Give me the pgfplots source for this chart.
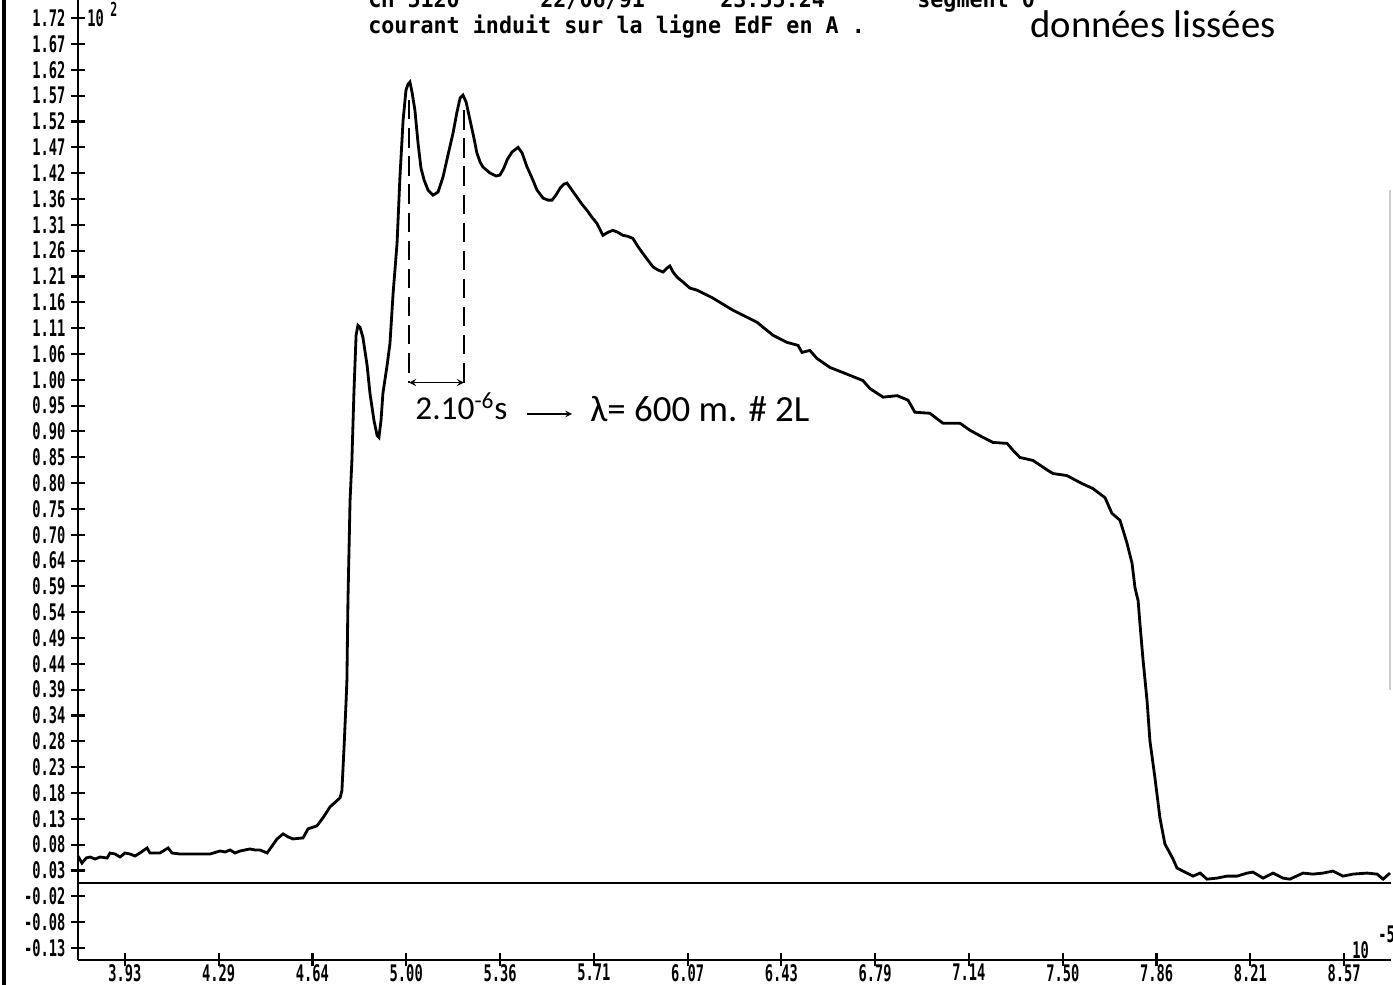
\documentclass[border=0pt]{standalone}
\usepackage{fontspec}
\usepackage{pgfplots}
\pgfplotsset{compat=1.18}
\newfontfamily\dotfont[FakeStretch=0.6]{DejaVu Sans Mono}
\newfontfamily\titlefont[FakeStretch=0.95]{DejaVu Sans Mono}
\newfontfamily\handfont{Carlito}

\begin{document}
\begin{tikzpicture}
\begin{axis}[
  at={(1.56cm,0.50cm)}, anchor=south west,
  scale only axis, width=26.26cm, height=19.20cm,
  xmin=3.75, xmax=8.75, ymin=-0.1539, ymax=1.7563,
  axis x line=bottom, axis y line=left,
  axis line style={-, line width=1.6pt},
  tick align=center, major tick length=0.26cm,
  tick style={line width=1.2pt, black},
  xtick={3.9286,4.2857,4.6429,5.0,5.3571,5.7143,6.0714,6.4286,6.7857,7.1429,7.5,7.8571,8.2143,8.5714},
  xticklabels={3.93,4.29,4.64,5.00,5.36,5.71,6.07,6.43,6.79,7.14,7.50,7.86,8.21,8.57},
  ytick={-0.1300,-0.0786,-0.0272,0.0242,0.0756,0.1269,0.1783,0.2297,0.2811,0.3325,0.3839,0.4353,0.4867,0.5381,0.5894,0.6408,0.6922,0.7436,0.7950,0.8464,0.8978,0.9492,1.0006,1.0519,1.1033,1.1547,1.2061,1.2575,1.3089,1.3603,1.4117,1.4631,1.5144,1.5658,1.6172,1.6686,1.7200},
  yticklabels={-0.13,-0.08,-0.02,0.03,0.08,0.13,0.18,0.23,0.28,0.34,0.39,0.44,0.49,0.54,0.59,0.64,0.70,0.75,0.80,0.85,0.90,0.95,1.00,1.06,1.11,1.16,1.21,1.26,1.31,1.36,1.42,1.47,1.52,1.57,1.62,1.67,1.72},
  ticklabel style={font=\dotfont\bfseries\fontsize{13}{13}\selectfont},
  xticklabel style={yshift=0.17cm},
  scaled ticks=false, clip=false,
]
% zero line
\addplot[black, line width=1.2pt, no markers] coordinates {(3.75,0) (8.75,0)};
% smoothed induced current
\addplot[black, line width=1.6pt, no markers] coordinates {
(3.750,0.053) (3.765,0.039) (3.781,0.049) (3.796,0.051) (3.815,0.047) (3.834,0.051)
(3.861,0.049) (3.872,0.059) (3.891,0.057) (3.910,0.051) (3.929,0.059) (3.948,0.057)
(3.967,0.053) (3.986,0.059) (4.013,0.069) (4.024,0.059) (4.062,0.059) (4.093,0.069)
(4.108,0.059) (4.138,0.057) (4.177,0.057) (4.215,0.057) (4.253,0.057) (4.291,0.063)
(4.310,0.061) (4.329,0.065) (4.348,0.059) (4.367,0.063) (4.386,0.065) (4.405,0.067)
(4.424,0.065) (4.443,0.065) (4.470,0.059) (4.481,0.067) (4.508,0.087) (4.531,0.097)
(4.550,0.091) (4.569,0.087) (4.607,0.089) (4.626,0.107) (4.660,0.113) (4.683,0.129)
(4.710,0.151) (4.736,0.163) (4.748,0.169) (4.755,0.183) (4.763,0.268) (4.771,0.362)
(4.774,0.402) (4.778,0.561) (4.786,0.760) (4.793,0.840) (4.801,0.979) (4.809,1.089)
(4.816,1.109) (4.824,1.105) (4.835,1.085) (4.851,1.029) (4.862,0.973) (4.877,0.920)
(4.889,0.890) (4.896,0.886) (4.904,0.920) (4.911,0.973) (4.927,1.029) (4.938,1.073)
(4.950,1.173) (4.965,1.272) (4.976,1.404) (4.988,1.517) (4.999,1.577) (5.007,1.589)
(5.014,1.593) (5.022,1.573) (5.033,1.537) (5.045,1.471) (5.056,1.422) (5.068,1.398)
(5.083,1.378) (5.102,1.368) (5.121,1.374) (5.140,1.404) (5.159,1.448) (5.178,1.491)
(5.193,1.533) (5.205,1.561) (5.216,1.567) (5.228,1.553) (5.243,1.517) (5.258,1.481)
(5.269,1.452) (5.281,1.434) (5.292,1.424) (5.319,1.412) (5.342,1.406) (5.357,1.408)
(5.372,1.422) (5.384,1.438) (5.403,1.454) (5.426,1.463) (5.441,1.452) (5.460,1.424)
(5.479,1.402) (5.498,1.378) (5.521,1.362) (5.540,1.358) (5.555,1.358) (5.570,1.368)
(5.586,1.382) (5.601,1.390) (5.612,1.392) (5.631,1.378) (5.650,1.364) (5.669,1.350)
(5.688,1.338) (5.707,1.324) (5.726,1.312) (5.749,1.288) (5.768,1.294) (5.787,1.298)
(5.806,1.294) (5.825,1.288) (5.844,1.286) (5.863,1.282) (5.882,1.266) (5.901,1.252)
(5.921,1.238) (5.940,1.225) (5.959,1.219) (5.978,1.215) (5.993,1.223) (6.004,1.227)
(6.016,1.215) (6.031,1.205) (6.054,1.195) (6.080,1.183) (6.107,1.179) (6.130,1.173)
(6.168,1.163) (6.244,1.139) (6.298,1.125) (6.336,1.115) (6.359,1.105) (6.397,1.089)
(6.450,1.075) (6.492,1.069) (6.507,1.055) (6.537,1.059) (6.564,1.043) (6.614,1.025)
(6.663,1.015) (6.739,0.999) (6.766,0.983) (6.816,0.966) (6.869,0.969) (6.911,0.960)
(6.937,0.936) (6.994,0.934) (7.044,0.914) (7.109,0.914) (7.147,0.900) (7.196,0.886)
(7.234,0.876) (7.288,0.874) (7.311,0.860) (7.337,0.846) (7.387,0.840) (7.444,0.820)
(7.463,0.814) (7.516,0.810) (7.566,0.796) (7.615,0.784) (7.661,0.766) (7.687,0.735)
(7.718,0.721) (7.745,0.675) (7.764,0.635) (7.775,0.587) (7.787,0.561) (7.794,0.515)
(7.806,0.442) (7.821,0.362) (7.832,0.282) (7.851,0.209) (7.870,0.129) (7.889,0.077)
(7.920,0.047) (7.935,0.029) (7.958,0.023) (7.996,0.013) (8.023,0.019) (8.049,0.007)
(8.087,0.009) (8.125,0.013) (8.164,0.013) (8.202,0.019) (8.224,0.021) (8.263,0.009)
(8.301,0.019) (8.339,0.009) (8.365,0.007) (8.415,0.019) (8.453,0.017) (8.491,0.019)
(8.529,0.023) (8.567,0.013) (8.605,0.017) (8.659,0.019) (8.697,0.017) (8.720,0.007)
(8.746,0.019)
};
% handwritten marks
\draw[line width=0.8pt, dash pattern=on 11pt off 5pt] (axis cs:5.0105,1.557) -- (axis cs:5.0105,0.995);
\draw[line width=0.8pt, dash pattern=on 11pt off 5pt] (axis cs:5.220,1.537) -- (axis cs:5.220,0.995);
\draw[line width=0.8pt, <->, >=stealth] (axis cs:5.0105,0.995) -- (axis cs:5.220,0.995);
\end{axis}

% frame edge of the printout
\draw[line width=2pt] (0.08,0) -- (0.08,19.7);
\draw[gray!40, line width=0.6pt] (27.80,5.9) -- (27.80,15.9);

% exponents
\node[anchor=base west, inner sep=0, font=\dotfont\bfseries\fontsize{13}{13}\selectfont] at (1.74,19.16) {10};
\node[anchor=base west, inner sep=0, font=\dotfont\bfseries\fontsize{11}{11}\selectfont] at (2.20,19.36) {2};
\node[anchor=base west, inner sep=0, font=\dotfont\bfseries\fontsize{13}{13}\selectfont] at (27.04,0.52) {10};
\node[anchor=base west, inner sep=0, font=\dotfont\bfseries\fontsize{13}{13}\selectfont] at (27.56,0.84) {-5};

% title (first line is cut by the top of the sheet)
\begin{scope}[every node/.style={anchor=base west, inner sep=0, font=\titlefont\bfseries\fontsize{13}{13}\selectfont}]
\node at (7.36,19.54) {CH 5120};
\node at (10.80,19.54) {22/06/91};
\node at (14.40,19.54) {23:55:24};
\node at (18.34,19.54) {segment 0};
\node at (7.36,19.02) {courant induit sur la ligne EdF en A .};
\end{scope}
\node[anchor=base west, inner sep=0, font=\handfont\fontsize{22}{22}\selectfont] at (20.60,18.94) {données lissées};

% note on the wavelength
\node[anchor=base west, inner sep=0, font=\handfont\fontsize{19}{19}\selectfont] at (8.30,11.30) {2.10\textsuperscript{-6}s};
\draw[line width=0.7pt, ->, >=stealth] (10.54,11.42) -- (11.44,11.42);
\node[anchor=base west, inner sep=0, font=\handfont\fontsize{21}{21}\selectfont] at (11.80,11.26) {λ= 600 m. \# 2L};

\pgfresetboundingbox
\useasboundingbox (0,0) rectangle (27.86,19.70);
\end{tikzpicture}
\end{document}
